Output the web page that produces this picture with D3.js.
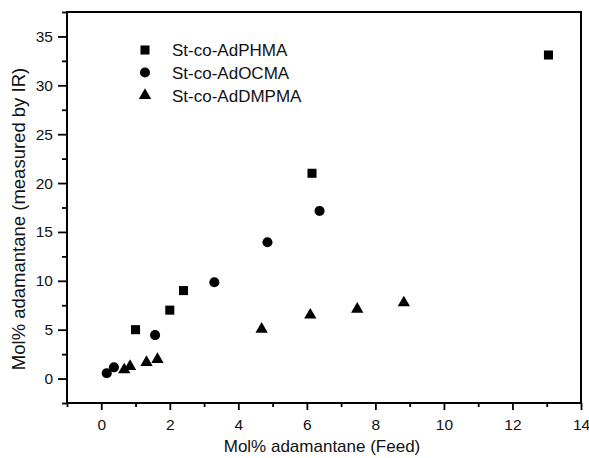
<!DOCTYPE html>
<html>
<head>
<meta charset="utf-8">
<script src="https://cdn.jsdelivr.net/npm/d3@7"></script>
<style>
  html, body { margin: 0; padding: 0; background: #fff; }
  svg { display: block; }
  text { font-family: "Liberation Sans", Arial, sans-serif; fill: #111; }
</style>
</head>
<body>
<svg id="chart" width="589" height="458"></svg>
<script>
// ---- data ----
const seriesNames = ["St-co-AdPHMA", "St-co-AdOCMA", "St-co-AdDMPMA"];
const phmaX = [1.0, 2.0, 2.4, 6.15, 13.05];
const phmaY = [5.0, 7.0, 9.0, 21.0, 33.1];
const ocmaX = [0.16, 0.37, 1.57, 3.3, 4.85, 6.37];
const ocmaY = [0.55, 1.15, 4.45, 9.85, 13.95, 17.15];
const dmpmaX = [0.67, 0.84, 1.32, 1.64, 4.68, 6.1, 7.47, 8.83];
const dmpmaY = [0.9, 1.25, 1.65, 1.95, 5.05, 6.5, 7.1, 7.75];
const xTickValues = [0, 2, 4, 6, 8, 10, 12, 14];
const yTickValues = [0, 5, 10, 15, 20, 25, 30, 35];
const xMinorTicks = [-1, 1, 3, 5, 7, 9, 11, 13];
const yMinorTicks = [-2.5, 2.5, 7.5, 12.5, 17.5, 22.5, 27.5, 32.5, 37.5];
const xTitle = "Mol% adamantane (Feed)";
const yTitle = "Mol% adamantane (measured by IR)";

const svg = d3.select("#chart");
const L = 67, R = 581, T = 12, B = 403;
const x = d3.scaleLinear().domain([-1, 14]).range([L, R]);
const y = d3.scaleLinear().domain([-2.5, 37.5]).range([B, T]);

// frame
svg.append("rect").attr("x", L).attr("y", T).attr("width", R - L).attr("height", B - T)
  .attr("fill", "none").attr("stroke", "#000").attr("stroke-width", 2);

// axes
const xAxis = svg.append("g").attr("transform", `translate(0,${B})`)
  .call(d3.axisBottom(x).tickValues(xTickValues).tickSize(7).tickPadding(9).tickFormat(d3.format("d")));
const xMinor = svg.append("g").attr("transform", `translate(0,${B})`)
  .call(d3.axisBottom(x).tickValues(xMinorTicks).tickSize(4).tickFormat(""));
const yAxis = svg.append("g").attr("transform", `translate(${L},0)`)
  .call(d3.axisLeft(y).tickValues(yTickValues).tickSize(9).tickPadding(5).tickFormat(d3.format("d")));
const yMinor = svg.append("g").attr("transform", `translate(${L},0)`)
  .call(d3.axisLeft(y).tickValues(yMinorTicks).tickSize(5).tickFormat(""));

[xAxis, xMinor, yAxis, yMinor].forEach(g => {
  g.select(".domain").remove();
  g.selectAll(".tick line").attr("stroke", "#000").attr("stroke-width", 1.8);
  g.selectAll(".tick text").attr("font-size", 15.5).attr("fill", "#111")
    .style("font-family", "'Liberation Sans', Arial, sans-serif");
});

// axis titles
svg.append("text").attr("x", (L + R) / 2 - 2).attr("y", 452).attr("text-anchor", "middle")
  .attr("font-size", 17).text(xTitle);
svg.append("text").attr("transform", `translate(25,${219}) rotate(-90)`).attr("text-anchor", "middle")
  .attr("font-size", 18.5).text(yTitle);

// markers
const sq = d3.symbol().type(d3.symbolSquare).size(82);
const ci = d3.symbol().type(d3.symbolCircle).size(80);
const tr = d3.symbol().type(d3.symbolTriangle).size(66);

const series = [
  { name: seriesNames[0], xs: phmaX, ys: phmaY, sym: sq },
  { name: seriesNames[1], xs: ocmaX, ys: ocmaY, sym: ci },
  { name: seriesNames[2], xs: dmpmaX, ys: dmpmaY, sym: tr }
];

series.forEach(s => {
  svg.append("g").selectAll("path").data(s.xs.map((v, i) => [v, s.ys[i]])).join("path")
    .attr("d", s.sym)
    .attr("transform", d => `translate(${x(d[0])},${y(d[1])})`)
    .attr("fill", "#000");
});

// legend
const legY = [50, 72.5, 95.5];
series.forEach((s, i) => {
  svg.append("path").attr("d", s.sym).attr("transform", `translate(145,${legY[i]})`).attr("fill", "#000");
  svg.append("text").attr("x", 172).attr("y", legY[i]).attr("dy", "0.36em")
    .attr("font-size", 17).text(s.name);
});
</script>
</body>
</html>
